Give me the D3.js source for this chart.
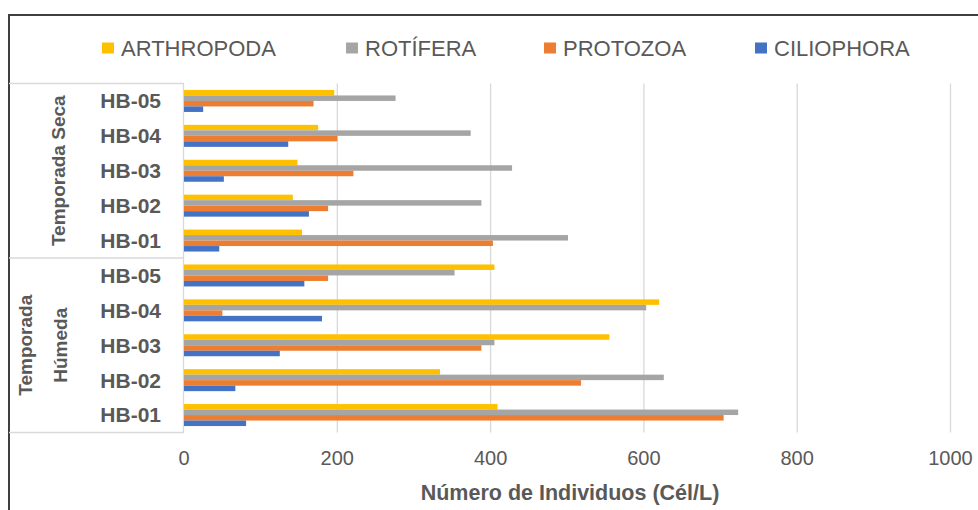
<!DOCTYPE html>
<html>
<head>
<meta charset="utf-8">
<script src="https://cdn.jsdelivr.net/npm/d3@7"></script>
<style>
  body { margin: 0; background: #fff; }
  text { font-family: "Liberation Sans", Arial, sans-serif; }
</style>
</head>
<body>
<div id="chart"></div>
<script>
// categories in data order (bottom to top, as Excel draws them)
const seasons = ["Temporada Húmeda", "Temporada Seca"];
const sites = ["HB-01", "HB-02", "HB-03", "HB-04", "HB-05"];
const seriesNames = ["ARTHROPODA", "ROTÍFERA", "PROTOZOA", "CILIOPHORA"];
const seriesColors = ["#FFC000", "#A5A5A5", "#ED7D31", "#4472C4"];

// values: Húmeda HB-01..HB-05, then Seca HB-01..HB-05
const arthropoda = [409, 334, 555, 620, 405, 154, 142, 148, 175, 196];
const rotifera   = [723, 626, 405, 603, 353, 501, 388, 428, 374, 276];
const protozoa   = [704, 518, 388, 50, 188, 403, 188, 221, 200, 169];
const ciliophora = [81, 67, 125, 180, 157, 46, 163, 52, 136, 25];

const xTicks = [0, 200, 400, 600, 800, 1000];

const values = [arthropoda, rotifera, protozoa, ciliophora];
const cats = [];
seasons.forEach(s => sites.forEach(h => cats.push({ season: s, site: h, key: s + "|" + h })));
const rows = cats.map((c, i) => ({ ...c, vals: values.map(v => v[i]) }));

const width = 978, height = 510;
const plot = { left: 184, right: 950.5, top: 83.5, bottom: 432.5 };

const svg = d3.select('#chart').append('svg')
    .attr('width', width)
    .attr('height', height);

// chart frame
svg.append('rect')
    .attr('x', 9).attr('y', 15)
    .attr('width', 1000).attr('height', 600)
    .attr('fill', 'none')
    .attr('stroke', '#3f3f3f')
    .attr('stroke-width', 2);

const x = d3.scaleLinear().domain([0, 1000]).range([plot.left, plot.right]);

// top to bottom: reversed order
const y = d3.scaleBand()
    .domain(cats.map(c => c.key).reverse())
    .range([plot.top, plot.bottom]);

const bw = y.bandwidth();
const groupH = bw * 0.63;
const ySub = d3.scaleBand()
    .domain(seriesNames)
    .range([(bw - groupH) / 2, (bw + groupH) / 2]);

// gridlines
svg.append('g')
    .selectAll('line')
    .data(xTicks.slice(1))
    .enter()
    .append('line')
    .attr('x1', d => x(d)).attr('x2', d => x(d))
    .attr('y1', plot.top).attr('y2', plot.bottom)
    .attr('stroke', '#d9d9d9')
    .attr('stroke-width', 1.3);

// category table lines
const tableLines = svg.append('g').attr('stroke', '#d9d9d9').attr('stroke-width', 1.3);
const sepY = y(cats[sites.length].key) + bw; // boundary between seasons
[plot.top, sepY, plot.bottom].forEach(yy => {
    tableLines.append('line')
        .attr('x1', 9).attr('x2', plot.left)
        .attr('y1', yy).attr('y2', yy);
});
tableLines.append('line')
    .attr('x1', plot.left - 0.5).attr('x2', plot.left - 0.5)
    .attr('y1', plot.top).attr('y2', plot.bottom);

// bars
const groups = svg.selectAll('.row')
    .data(rows)
    .enter()
    .append('g')
    .attr('transform', d => `translate(0, ${y(d.key)})`);

groups.selectAll('rect')
    .data(d => d.vals.map((v, i) => ({ v, name: seriesNames[i], color: seriesColors[i] })))
    .enter()
    .append('rect')
    .attr('x', x(0))
    .attr('y', d => ySub(d.name))
    .attr('width', d => x(d.v) - x(0))
    .attr('height', ySub.bandwidth())
    .attr('fill', d => d.color);

// site labels
svg.selectAll('.site-label')
    .data(rows)
    .enter()
    .append('text')
    .attr('x', 161)
    .attr('y', d => y(d.key) + bw / 2)
    .attr('dy', '.35em')
    .attr('text-anchor', 'end')
    .attr('fill', '#595959')
    .style('font-size', '21px')
    .style('font-weight', 'bold')
    .text(d => d.site);

// season labels (rotated)
const seasonLines = {
    "Temporada Seca": [{ t: "Temporada Seca", dx: 58 }],
    "Temporada Húmeda": [{ t: "Temporada", dx: 25 }, { t: "Húmeda", dx: 60 }]
};
seasons.forEach(s => {
    const keys = cats.filter(c => c.season === s).map(c => y(c.key));
    const cy = (d3.min(keys) + d3.max(keys) + bw) / 2;
    seasonLines[s].forEach(l => {
        svg.append('text')
            .attr('transform', `translate(${l.dx}, ${cy}) rotate(-90)`)
            .attr('dy', '.35em')
            .attr('text-anchor', 'middle')
            .attr('fill', '#595959')
            .style('font-size', '19px')
            .style('font-weight', 'bold')
            .text(l.t);
    });
});

// x tick labels
svg.selectAll('.x-label')
    .data(xTicks)
    .enter()
    .append('text')
    .attr('x', d => x(d))
    .attr('y', 458)
    .attr('dy', '.35em')
    .attr('text-anchor', 'middle')
    .attr('fill', '#595959')
    .style('font-size', '20px')
    .text(d => d);

// axis title
svg.append('text')
    .attr('x', 570)
    .attr('y', 492)
    .attr('dy', '.35em')
    .attr('text-anchor', 'middle')
    .attr('fill', '#595959')
    .style('font-size', '21.5px')
    .style('font-weight', 'bold')
    .text('Número de Individuos (Cél/L)');

// legend
const legendX = [102, 346, 544, 755];
const legend = svg.selectAll('.legend')
    .data(seriesNames)
    .enter()
    .append('g')
    .attr('transform', (d, i) => `translate(${legendX[i]}, 48)`);

legend.append('rect')
    .attr('y', -5.5)
    .attr('width', 12)
    .attr('height', 11)
    .attr('fill', (d, i) => seriesColors[i]);

legend.append('text')
    .attr('x', 19)
    .attr('dy', '.35em')
    .attr('fill', '#595959')
    .style('font-size', '22px')
    .text(d => d);
</script>
</body>
</html>
